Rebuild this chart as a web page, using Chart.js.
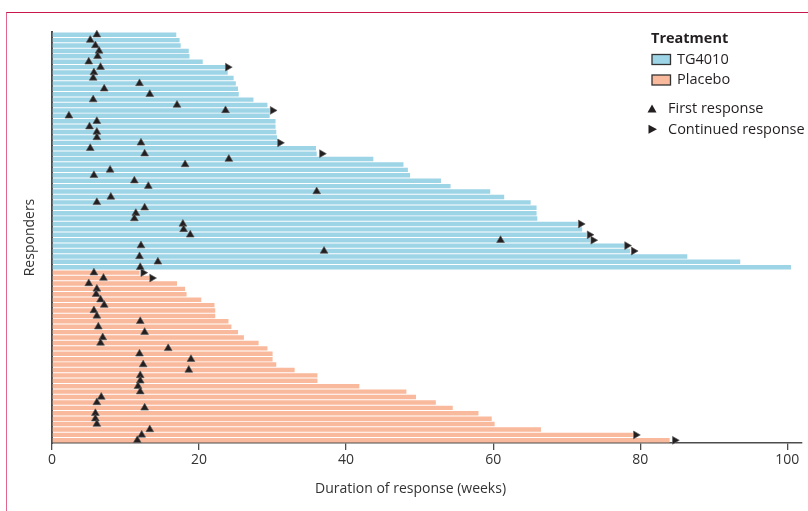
<!DOCTYPE html>
<html>
<head>
<meta charset="utf-8">
<script src="https://cdn.jsdelivr.net/npm/chart.js@4/dist/chart.umd.min.js"></script>
<style>
  body { margin: 0; background: #fff; }
  #wrap { position: relative; width: 808px; height: 511px; overflow: hidden; }
  #frame { position: absolute; left: 6px; top: 12px; width: 810px; height: 510px;
           border-top: 1.5px solid #c8174b; border-left: 1.5px solid #e2668c; }
  #chart { position: absolute; left: 0; top: 0; }
</style>
</head>
<body>
<div id="wrap">
  <div id="frame"></div>
  <canvas id="chart" width="808" height="511"></canvas>
</div>
<script>
// duration of response (weeks), one value per responder, top to bottom
var tgEnd = [16.9, 17.35, 17.5, 18.6, 18.7, 20.5, 23.6, 23.9, 24.7, 25.0, 25.3, 25.4, 27.4, 29.3, 29.6,
             29.6, 30.4, 30.4, 30.5, 30.6, 30.7, 35.9, 36.0, 43.7, 47.8, 48.4, 48.7, 52.9, 54.2, 59.6,
             61.5, 65.1, 65.9, 65.9, 66.0, 71.5, 72.1, 72.7, 73.2, 77.9, 78.6, 86.4, 93.6, 100.5];
var tgFirst = [6.1, 5.2, 5.9, 6.4, 6.2, 5.0, 6.6, 5.7, 5.6, 11.9, 7.1, 13.3, 5.6, 17.0, 23.6,
               2.3, 6.1, 5.1, 6.1, 6.1, 12.1, 5.2, 12.6, 24.05, 18.1, 7.9, 5.7, 11.2, 13.1, 36.0,
               8.0, 6.1, 12.6, 11.4, 11.2, 17.8, 17.9, 18.8, 61.0, 12.1, 37.0, 11.9, 14.4, 12.0];
// continued response arrow (weeks), null where there is none
var tgCont = [null, null, null, null, null, null, 23.9, null, null, null, null, null, null, null, 30.0,
              null, null, null, null, null, 31.0, null, 36.7, null, null, null, null, null, null, null,
              null, null, null, null, null, 71.9, null, 73.1, 73.6, 78.2, 79.1, null, null, null];

var placeboEnd = [11.9, 13.2, 17.0, 18.1, 18.3, 20.3, 22.1, 22.2, 22.2, 24.0, 24.4, 25.3, 26.1, 28.1, 29.3, 30.0,
                  30.0, 30.5, 33.0, 36.1, 36.1, 41.8, 48.2, 49.5, 52.2, 54.5, 58.0, 59.8, 60.2, 66.5, 79.0, 84.0];
var placeboFirst = [5.7, 7.0, 5.0, 6.1, 6.0, 6.6, 7.1, 5.7, 6.1, 12.0, 6.3, 12.6, 6.9, 6.6, 15.8, 11.9,
                    18.9, 12.4, 18.6, 12.0, 12.0, 11.7, 12.0, 6.7, 6.1, 12.6, 5.9, 5.9, 6.1, 13.3, 12.2, 11.6];
var placeboCont = [12.4, 13.6, null, null, null, null, null, null, null, null, null, null, null, null, null, null,
                   null, null, null, null, null, null, null, null, null, null, null, null, null, null, 79.4, 84.7];

var xTicks = [0, 20, 40, 60, 80, 100];
var xTitle = 'Duration of response (weeks)';

var blue = '#9dd4e6';
var salmon = '#f9b99c';
var ink = '#231f20';
var axisGrey = '#4d4d4d';
var font = '"Open Sans"';

var tgRows = tgEnd.map(function (v, i) { return 'TG' + (i + 1); });
var placeboRows = placeboEnd.map(function (v, i) { return 'P' + (i + 1); });
var rows = tgRows.concat(placeboRows);

function pad(arr, before, after) {
  var out = [];
  for (var i = 0; i < before; i++) out.push(null);
  out = out.concat(arr);
  for (var j = 0; j < after; j++) out.push(null);
  return out;
}

function points(values, labels) {
  var out = [];
  values.forEach(function (v, i) {
    if (v !== null) out.push({ x: v, y: labels[i] });
  });
  return out;
}

// legend at the top right inside the plot, plus the x title (sits a bit left of centre)
var legendPlugin = {
  id: 'swimLegend',
  afterDraw: function (chart) {
    var ctx = chart.ctx;
    ctx.save();
    ctx.textBaseline = 'middle';
    ctx.textAlign = 'left';
    ctx.fillStyle = ink;
    ctx.font = 'bold 14.5px ' + font;
    ctx.fillText('Treatment', 651, 39);

    ctx.font = '14.5px ' + font;
    [[blue, 'TG4010', 59.5], [salmon, 'Placebo', 80]].forEach(function (it) {
      ctx.fillStyle = it[0];
      ctx.fillRect(652, it[2] - 5, 18.5, 10);
      ctx.strokeStyle = '#333';
      ctx.lineWidth = 1.3;
      ctx.strokeRect(652, it[2] - 5, 18.5, 10);
      ctx.fillStyle = ink;
      ctx.fillText(it[1], 677, it[2]);
    });

    ctx.fillStyle = ink;
    ctx.beginPath();
    ctx.moveTo(647.5, 112.5); ctx.lineTo(656.5, 112.5); ctx.lineTo(652, 104.5);
    ctx.closePath(); ctx.fill();
    ctx.fillText('First response', 668, 108.5);

    ctx.beginPath();
    ctx.moveTo(648.5, 124.8); ctx.lineTo(648.5, 133.8); ctx.lineTo(657, 129.3);
    ctx.closePath(); ctx.fill();
    ctx.fillText('Continued response', 668, 129.5);

    ctx.fillStyle = '#333';
    ctx.font = '14px ' + font;
    ctx.textAlign = 'center';
    ctx.fillText(xTitle, 410.5, 489);
    ctx.restore();
  }
};

var ctx = document.getElementById('chart').getContext('2d');
new Chart(ctx, {
  type: 'bar',
  data: {
    labels: rows,
    datasets: [
      {
        type: 'scatter', label: 'First response',
        data: points(tgFirst, tgRows).concat(points(placeboFirst, placeboRows)),
        pointStyle: 'triangle', rotation: 0, pointRadius: 4.5,
        backgroundColor: ink, borderColor: 'rgba(90,90,90,0.8)', borderWidth: 0.8, order: 0
      },
      {
        type: 'scatter', label: 'Continued response',
        data: points(tgCont, tgRows).concat(points(placeboCont, placeboRows)),
        pointStyle: 'triangle', rotation: 90, pointRadius: 4.5,
        backgroundColor: ink, borderColor: 'rgba(90,90,90,0.8)', borderWidth: 0.8, order: 0
      },
      {
        label: 'TG4010', data: pad(tgEnd, 0, placeboEnd.length),
        backgroundColor: blue, grouped: false, order: 2,
        barPercentage: 0.82, categoryPercentage: 1
      },
      {
        label: 'Placebo', data: pad(placeboEnd, tgEnd.length, 0),
        backgroundColor: salmon, grouped: false, order: 2,
        barPercentage: 0.82, categoryPercentage: 1
      }
    ]
  },
  options: {
    indexAxis: 'y',
    responsive: false,
    animation: false,
    layout: { padding: { top: 32, left: 0, right: 6, bottom: 0 } },
    plugins: { legend: { display: false }, tooltip: { enabled: false } },
    scales: {
      x: {
        type: 'linear', position: 'bottom', min: 0, max: 102,
        afterBuildTicks: function (s) { s.ticks = xTicks.map(function (v) { return { value: v }; }); },
        afterFit: function (s) { s.height = 68; },
        grid: { drawOnChartArea: false, drawTicks: true, tickLength: 7, color: axisGrey, lineWidth: 1.3 },
        border: { display: true, color: axisGrey, width: 1.5 },
        ticks: { color: '#333', font: { family: font, size: 14 }, padding: 2, maxRotation: 0 },
        title: { display: false }
      },
      y: {
        type: 'category', offset: true,
        afterFit: function (s) { s.width = 52; },
        grid: { display: false },
        border: { display: true, color: axisGrey, width: 2 },
        ticks: { display: false },
        title: { display: true, text: 'Responders', color: '#333',
                 font: { family: font, size: 14 }, padding: { top: 22, bottom: 0 } }
      }
    }
  },
  plugins: [legendPlugin]
});
</script>
</body>
</html>
